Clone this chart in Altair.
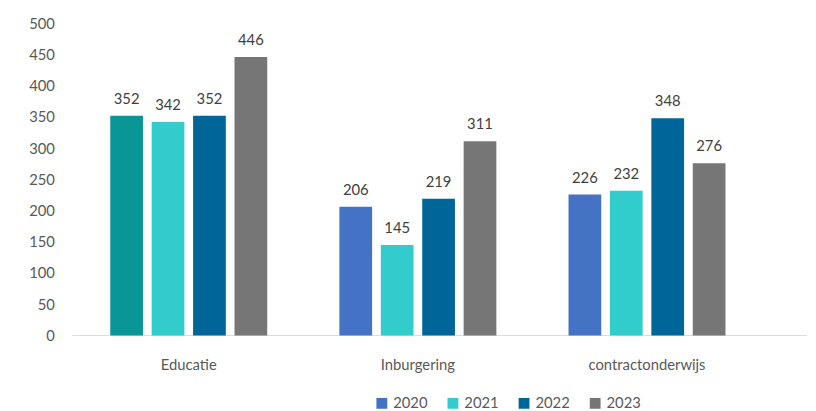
import altair as alt
import pandas as pd

categories = ["Educatie", "Inburgering", "contractonderwijs"]
years = ["2020", "2021", "2022", "2023"]
values = {
    "Educatie": [352, 342, 352, 446],
    "Inburgering": [206, 145, 219, 311],
    "contractonderwijs": [226, 232, 348, 276],
}
year_colors = ["#4472C4", "#33CCCC", "#006699", "#767676"]
special_color = "#0A9696"  # Educatie 2020 bar

rows = []
for c in categories:
    for y, v in zip(years, values[c]):
        rows.append({"cat": c, "year": y, "value": v})
df = pd.DataFrame(rows)

FONT = "Lato"
W, H = 742, 316

x = alt.X("cat:N", sort=categories, title=None,
          scale=alt.Scale(range=[0, 696], paddingInner=0.315, paddingOuter=0.1575),
          axis=alt.Axis(domain=False, ticks=False, labelAngle=0, labelFont=FONT,
                        labelFontSize=15, labelColor="#595959", labelPadding=22))
xo = alt.XOffset("year:N", sort=years, scale=alt.Scale(paddingInner=0.21))
yscale = alt.Scale(domain=[0, 500], nice=False)
yaxis = alt.Axis(values=list(range(0, 501, 50)), grid=False, domain=False, ticks=False,
                 labelOverlap=False, labelFont=FONT, labelFontSize=15,
                 labelColor="#595959", labelPadding=20)
y = alt.Y("value:Q", title=None, scale=yscale, axis=yaxis)

color = alt.condition(
    (alt.datum.cat == "Educatie") & (alt.datum.year == "2020"),
    alt.value(special_color),
    alt.Color("year:N", sort=years,
              scale=alt.Scale(domain=years, range=year_colors),
              legend=alt.Legend(title=None, orient="none", direction="horizontal",
                                legendX=304, legendY=377, symbolType="square",
                                symbolSize=120, symbolStrokeWidth=0,
                                labelFont=FONT, labelFontSize=15, labelColor="#595959",
                                columnPadding=18, labelOffset=4)),
)

base = alt.Chart(df)
bars = base.mark_bar().encode(x=x, xOffset=xo, y=y, color=color)
labels = base.mark_text(baseline="bottom", dy=-9, font=FONT, fontSize=15, color="#404040").encode(
    x=x, xOffset=xo, y=y, text="value:Q")
baseline = alt.Chart(pd.DataFrame({"value": [0]})).mark_rule(color="#D9D9D9", strokeWidth=1).encode(
    y=alt.Y("value:Q", title=None, scale=yscale, axis=yaxis),
    x=alt.value(-2), x2=alt.value(W))

chart = alt.layer(baseline, bars, labels).properties(
    width=W, height=H, background="white",
    padding={"left": 20, "top": 6, "right": 0, "bottom": 0}
).configure_view(stroke=None)

chart.save("out.html", embed_options={"renderer": "svg", "actions": False})
